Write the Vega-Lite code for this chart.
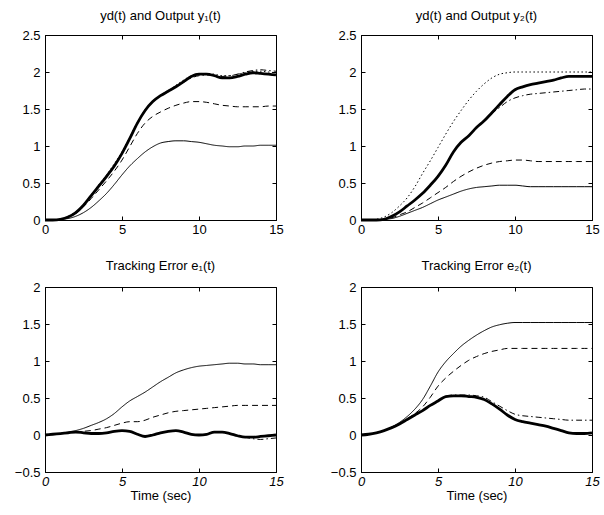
{
"$schema": "https://vega.github.io/schema/vega-lite/v6.json",
"padding": {"left": 13, "top": 9, "right": 5, "bottom": 5},
"background": "white",
"data": {"values": [
{"p":"y1","t":0,"thin":0,"dash":0,"dd":0,"thick":0,"dot":0},
{"p":"y1","t":0.5,"thin":0,"dash":0,"dd":0,"thick":0,"dot":0},
{"p":"y1","t":1,"thin":0.01,"dash":0.01,"dd":0.01,"thick":0.01,"dot":0.01},
{"p":"y1","t":1.5,"thin":0.02,"dash":0.04,"dd":0.04,"thick":0.04,"dot":0.05},
{"p":"y1","t":2,"thin":0.05,"dash":0.09,"dd":0.1,"thick":0.1,"dot":0.11},
{"p":"y1","t":2.5,"thin":0.1,"dash":0.18,"dd":0.2,"thick":0.2,"dot":0.21},
{"p":"y1","t":3,"thin":0.17,"dash":0.29,"dd":0.33,"thick":0.33,"dot":0.34},
{"p":"y1","t":3.5,"thin":0.26,"dash":0.41,"dd":0.46,"thick":0.46,"dot":0.48},
{"p":"y1","t":4,"thin":0.36,"dash":0.53,"dd":0.59,"thick":0.59,"dot":0.61},
{"p":"y1","t":4.5,"thin":0.48,"dash":0.66,"dd":0.73,"thick":0.73,"dot":0.76},
{"p":"y1","t":5,"thin":0.61,"dash":0.81,"dd":0.9,"thick":0.9,"dot":0.92},
{"p":"y1","t":5.5,"thin":0.73,"dash":0.99,"dd":1.1,"thick":1.1,"dot":1.12},
{"p":"y1","t":6,"thin":0.83,"dash":1.17,"dd":1.31,"thick":1.31,"dot":1.32},
{"p":"y1","t":6.5,"thin":0.92,"dash":1.31,"dd":1.48,"thick":1.48,"dot":1.49},
{"p":"y1","t":7,"thin":0.99,"dash":1.4,"dd":1.6,"thick":1.6,"dot":1.61},
{"p":"y1","t":7.5,"thin":1.04,"dash":1.46,"dd":1.68,"thick":1.68,"dot":1.69},
{"p":"y1","t":8,"thin":1.06,"dash":1.51,"dd":1.74,"thick":1.74,"dot":1.75},
{"p":"y1","t":8.5,"thin":1.07,"dash":1.55,"dd":1.8,"thick":1.8,"dot":1.82},
{"p":"y1","t":9,"thin":1.07,"dash":1.58,"dd":1.86,"thick":1.87,"dot":1.89},
{"p":"y1","t":9.5,"thin":1.06,"dash":1.6,"dd":1.92,"thick":1.94,"dot":1.95},
{"p":"y1","t":10,"thin":1.05,"dash":1.6,"dd":1.95,"thick":1.97,"dot":1.98},
{"p":"y1","t":10.5,"thin":1.03,"dash":1.59,"dd":1.96,"thick":1.97,"dot":1.98},
{"p":"y1","t":11,"thin":1.01,"dash":1.57,"dd":1.95,"thick":1.95,"dot":1.97},
{"p":"y1","t":11.5,"thin":1.0,"dash":1.55,"dd":1.94,"thick":1.92,"dot":1.95},
{"p":"y1","t":12,"thin":0.99,"dash":1.54,"dd":1.95,"thick":1.92,"dot":1.95},
{"p":"y1","t":12.5,"thin":0.99,"dash":1.53,"dd":1.97,"thick":1.94,"dot":1.97},
{"p":"y1","t":13,"thin":1.0,"dash":1.53,"dd":2.0,"thick":1.97,"dot":1.99},
{"p":"y1","t":13.5,"thin":1.0,"dash":1.53,"dd":2.02,"thick":1.99,"dot":2.01},
{"p":"y1","t":14,"thin":1.01,"dash":1.53,"dd":2.03,"thick":1.98,"dot":2.01},
{"p":"y1","t":14.5,"thin":1.01,"dash":1.54,"dd":2.02,"thick":1.97,"dot":2.0},
{"p":"y1","t":15,"thin":1.01,"dash":1.54,"dd":2.01,"thick":1.96,"dot":1.99},
{"p":"y2","t":0,"thin":0,"dash":0,"dd":0,"thick":0,"dot":0},
{"p":"y2","t":0.5,"thin":0,"dash":0,"dd":0,"thick":0,"dot":0},
{"p":"y2","t":1,"thin":0,"dash":0,"dd":0,"thick":0,"dot":0.01},
{"p":"y2","t":1.5,"thin":0.01,"dash":0.01,"dd":0.01,"thick":0.01,"dot":0.04},
{"p":"y2","t":2,"thin":0.02,"dash":0.03,"dd":0.05,"thick":0.05,"dot":0.1},
{"p":"y2","t":2.5,"thin":0.05,"dash":0.07,"dd":0.11,"thick":0.11,"dot":0.19},
{"p":"y2","t":3,"thin":0.09,"dash":0.11,"dd":0.19,"thick":0.19,"dot":0.3},
{"p":"y2","t":3.5,"thin":0.13,"dash":0.17,"dd":0.27,"thick":0.27,"dot":0.45},
{"p":"y2","t":4,"thin":0.17,"dash":0.23,"dd":0.36,"thick":0.36,"dot":0.63},
{"p":"y2","t":4.5,"thin":0.22,"dash":0.3,"dd":0.47,"thick":0.47,"dot":0.8},
{"p":"y2","t":5,"thin":0.27,"dash":0.37,"dd":0.59,"thick":0.59,"dot":0.98},
{"p":"y2","t":5.5,"thin":0.31,"dash":0.44,"dd":0.74,"thick":0.74,"dot":1.16},
{"p":"y2","t":6,"thin":0.35,"dash":0.52,"dd":0.92,"thick":0.92,"dot":1.33},
{"p":"y2","t":6.5,"thin":0.39,"dash":0.59,"dd":1.05,"thick":1.05,"dot":1.48},
{"p":"y2","t":7,"thin":0.42,"dash":0.65,"dd":1.14,"thick":1.14,"dot":1.62},
{"p":"y2","t":7.5,"thin":0.44,"dash":0.7,"dd":1.25,"thick":1.25,"dot":1.74},
{"p":"y2","t":8,"thin":0.45,"dash":0.74,"dd":1.34,"thick":1.34,"dot":1.84},
{"p":"y2","t":8.5,"thin":0.46,"dash":0.77,"dd":1.44,"thick":1.45,"dot":1.92},
{"p":"y2","t":9,"thin":0.47,"dash":0.79,"dd":1.52,"thick":1.56,"dot":1.97},
{"p":"y2","t":9.5,"thin":0.47,"dash":0.8,"dd":1.6,"thick":1.67,"dot":1.99},
{"p":"y2","t":10,"thin":0.47,"dash":0.81,"dd":1.65,"thick":1.76,"dot":2},
{"p":"y2","t":10.5,"thin":0.46,"dash":0.81,"dd":1.68,"thick":1.8,"dot":2},
{"p":"y2","t":11,"thin":0.45,"dash":0.8,"dd":1.7,"thick":1.83,"dot":2},
{"p":"y2","t":11.5,"thin":0.45,"dash":0.79,"dd":1.71,"thick":1.85,"dot":2},
{"p":"y2","t":12,"thin":0.45,"dash":0.79,"dd":1.72,"thick":1.87,"dot":2},
{"p":"y2","t":12.5,"thin":0.45,"dash":0.79,"dd":1.73,"thick":1.89,"dot":2},
{"p":"y2","t":13,"thin":0.45,"dash":0.79,"dd":1.74,"thick":1.92,"dot":2},
{"p":"y2","t":13.5,"thin":0.45,"dash":0.79,"dd":1.75,"thick":1.94,"dot":2},
{"p":"y2","t":14,"thin":0.45,"dash":0.79,"dd":1.76,"thick":1.94,"dot":2},
{"p":"y2","t":14.5,"thin":0.45,"dash":0.79,"dd":1.77,"thick":1.94,"dot":2},
{"p":"y2","t":15,"thin":0.45,"dash":0.79,"dd":1.77,"thick":1.94,"dot":2},
{"p":"e1","t":0,"thin":0,"dash":0,"dd":0,"thick":0},
{"p":"e1","t":0.5,"thin":0.01,"dash":0.01,"dd":0.01,"thick":0.01},
{"p":"e1","t":1,"thin":0.02,"dash":0.02,"dd":0.02,"thick":0.02},
{"p":"e1","t":1.5,"thin":0.04,"dash":0.03,"dd":0.03,"thick":0.03},
{"p":"e1","t":2,"thin":0.06,"dash":0.04,"dd":0.04,"thick":0.04},
{"p":"e1","t":2.5,"thin":0.09,"dash":0.05,"dd":0.03,"thick":0.03},
{"p":"e1","t":3,"thin":0.13,"dash":0.06,"dd":0.02,"thick":0.02},
{"p":"e1","t":3.5,"thin":0.17,"dash":0.08,"dd":0.02,"thick":0.02},
{"p":"e1","t":4,"thin":0.22,"dash":0.1,"dd":0.03,"thick":0.03},
{"p":"e1","t":4.5,"thin":0.29,"dash":0.13,"dd":0.05,"thick":0.05},
{"p":"e1","t":5,"thin":0.38,"dash":0.16,"dd":0.06,"thick":0.06},
{"p":"e1","t":5.5,"thin":0.46,"dash":0.18,"dd":0.05,"thick":0.05},
{"p":"e1","t":6,"thin":0.52,"dash":0.18,"dd":0.01,"thick":0.01},
{"p":"e1","t":6.5,"thin":0.58,"dash":0.2,"dd":-0.02,"thick":-0.02},
{"p":"e1","t":7,"thin":0.65,"dash":0.24,"dd":0,"thick":0},
{"p":"e1","t":7.5,"thin":0.72,"dash":0.27,"dd":0.03,"thick":0.03},
{"p":"e1","t":8,"thin":0.78,"dash":0.3,"dd":0.05,"thick":0.05},
{"p":"e1","t":8.5,"thin":0.84,"dash":0.32,"dd":0.06,"thick":0.06},
{"p":"e1","t":9,"thin":0.88,"dash":0.33,"dd":0.04,"thick":0.04},
{"p":"e1","t":9.5,"thin":0.91,"dash":0.34,"dd":0.01,"thick":0.01},
{"p":"e1","t":10,"thin":0.93,"dash":0.35,"dd":0,"thick":0},
{"p":"e1","t":10.5,"thin":0.94,"dash":0.36,"dd":0.01,"thick":0.01},
{"p":"e1","t":11,"thin":0.95,"dash":0.37,"dd":0.04,"thick":0.04},
{"p":"e1","t":11.5,"thin":0.96,"dash":0.38,"dd":0.04,"thick":0.04},
{"p":"e1","t":12,"thin":0.97,"dash":0.39,"dd":0.02,"thick":0.02},
{"p":"e1","t":12.5,"thin":0.97,"dash":0.4,"dd":-0.01,"thick":-0.01},
{"p":"e1","t":13,"thin":0.96,"dash":0.4,"dd":-0.03,"thick":-0.03},
{"p":"e1","t":13.5,"thin":0.96,"dash":0.4,"dd":-0.05,"thick":-0.03},
{"p":"e1","t":14,"thin":0.95,"dash":0.4,"dd":-0.06,"thick":-0.02},
{"p":"e1","t":14.5,"thin":0.95,"dash":0.4,"dd":-0.05,"thick":-0.01},
{"p":"e1","t":15,"thin":0.95,"dash":0.4,"dd":-0.04,"thick":0},
{"p":"e2","t":0,"thin":0,"dash":0,"dd":0,"thick":0},
{"p":"e2","t":0.5,"thin":0.01,"dash":0.01,"dd":0.01,"thick":0.01},
{"p":"e2","t":1,"thin":0.03,"dash":0.03,"dd":0.03,"thick":0.03},
{"p":"e2","t":1.5,"thin":0.06,"dash":0.06,"dd":0.06,"thick":0.06},
{"p":"e2","t":2,"thin":0.11,"dash":0.1,"dd":0.1,"thick":0.1},
{"p":"e2","t":2.5,"thin":0.17,"dash":0.15,"dd":0.15,"thick":0.15},
{"p":"e2","t":3,"thin":0.25,"dash":0.22,"dd":0.21,"thick":0.21},
{"p":"e2","t":3.5,"thin":0.35,"dash":0.29,"dd":0.27,"thick":0.27},
{"p":"e2","t":4,"thin":0.48,"dash":0.38,"dd":0.33,"thick":0.33},
{"p":"e2","t":4.5,"thin":0.66,"dash":0.51,"dd":0.4,"thick":0.4},
{"p":"e2","t":5,"thin":0.85,"dash":0.66,"dd":0.46,"thick":0.46},
{"p":"e2","t":5.5,"thin":0.99,"dash":0.77,"dd":0.52,"thick":0.52},
{"p":"e2","t":6,"thin":1.1,"dash":0.86,"dd":0.54,"thick":0.53},
{"p":"e2","t":6.5,"thin":1.2,"dash":0.94,"dd":0.54,"thick":0.53},
{"p":"e2","t":7,"thin":1.28,"dash":1.01,"dd":0.54,"thick":0.52},
{"p":"e2","t":7.5,"thin":1.35,"dash":1.06,"dd":0.53,"thick":0.51},
{"p":"e2","t":8,"thin":1.41,"dash":1.1,"dd":0.51,"thick":0.48},
{"p":"e2","t":8.5,"thin":1.46,"dash":1.13,"dd":0.45,"thick":0.42},
{"p":"e2","t":9,"thin":1.49,"dash":1.15,"dd":0.39,"thick":0.35},
{"p":"e2","t":9.5,"thin":1.51,"dash":1.17,"dd":0.33,"thick":0.27},
{"p":"e2","t":10,"thin":1.52,"dash":1.17,"dd":0.28,"thick":0.21},
{"p":"e2","t":10.5,"thin":1.52,"dash":1.17,"dd":0.26,"thick":0.18},
{"p":"e2","t":11,"thin":1.52,"dash":1.17,"dd":0.25,"thick":0.16},
{"p":"e2","t":11.5,"thin":1.52,"dash":1.17,"dd":0.24,"thick":0.14},
{"p":"e2","t":12,"thin":1.52,"dash":1.17,"dd":0.23,"thick":0.12},
{"p":"e2","t":12.5,"thin":1.52,"dash":1.17,"dd":0.22,"thick":0.09},
{"p":"e2","t":13,"thin":1.52,"dash":1.17,"dd":0.21,"thick":0.06},
{"p":"e2","t":13.5,"thin":1.52,"dash":1.17,"dd":0.2,"thick":0.03},
{"p":"e2","t":14,"thin":1.52,"dash":1.17,"dd":0.2,"thick":0.02},
{"p":"e2","t":14.5,"thin":1.52,"dash":1.17,"dd":0.2,"thick":0.02},
{"p":"e2","t":15,"thin":1.52,"dash":1.17,"dd":0.2,"thick":0.03}
]},
"config": {
  "font": "Liberation Sans",
  "view": {"stroke": "black", "strokeWidth": 1},
  "axis": {"grid": false, "domainColor": "black", "domainWidth": 1, "tickColor": "black", "tickSize": -4, "tickWidth": 1, "labelColor": "black", "labelFont": "Liberation Sans", "labelFontSize": 13, "labelPadding": 9, "labelFlush": false, "labelOverlap": false, "titleFont": "Liberation Sans", "titleFontSize": 13, "titleFontWeight": "normal", "titleColor": "black", "titlePadding": 1},
  "axisX": {"labelPadding": 7},
  "title": {"font": "Liberation Sans", "fontSize": 13, "fontWeight": "normal", "color": "black", "anchor": "middle"}
},
"concat": [
  {"width": 231, "height": 185,
   "title": {"text": "yd(t) and Output y₁(t)", "offset": 6},
   "transform": [{"filter": "datum.p == 'y1'"}],
   "layer": [
    {"transform": [{"fold": ["thin","dash","dd","dot"], "as": ["s","v"]}],
     "mark": {"type": "line", "color": "black", "strokeWidth": 1, "interpolate": "monotone"},
     "encoding": {
      "x": {"field": "t", "type": "quantitative", "scale": {"domain": [0,15], "nice": false}, "axis": {"values": [0,5,10,15], "title": null}},
      "y": {"field": "v", "type": "quantitative", "scale": {"domain": [0,2.5], "nice": false}, "axis": {"values": [0,0.5,1,1.5,2,2.5], "format": "~g", "title": null}},
      "strokeDash": {"field": "s", "type": "nominal", "scale": {"domain": ["thin","dash","dd","dot"], "range": [[1,0],[6,4],[6,3,1.5,3],[1.5,2.5]]}, "legend": null}
     }},
    {"mark": {"type": "line", "color": "black", "strokeWidth": 2.8, "interpolate": "monotone"},
     "encoding": {
      "x": {"field": "t", "type": "quantitative", "scale": {"domain": [0,15], "nice": false}, "axis": {"orient": "top", "values": [0,5,10,15], "labels": false, "title": null, "domain": false}},
      "y": {"field": "thick", "type": "quantitative", "scale": {"domain": [0,2.5], "nice": false}, "axis": {"orient": "right", "values": [0,0.5,1,1.5,2,2.5], "labels": false, "title": null, "domain": false}}
     }}
   ],
   "resolve": {"axis": {"x": "independent", "y": "independent"}}
  },
  {"width": 231, "height": 185,
   "title": {"text": "yd(t) and Output y₂(t)", "offset": 6},
   "transform": [{"filter": "datum.p == 'y2'"}],
   "layer": [
    {"transform": [{"fold": ["thin","dash","dd","dot"], "as": ["s","v"]}],
     "mark": {"type": "line", "color": "black", "strokeWidth": 1, "interpolate": "monotone"},
     "encoding": {
      "x": {"field": "t", "type": "quantitative", "scale": {"domain": [0,15], "nice": false}, "axis": {"values": [0,5,10,15], "title": null}},
      "y": {"field": "v", "type": "quantitative", "scale": {"domain": [0,2.5], "nice": false}, "axis": {"values": [0,0.5,1,1.5,2,2.5], "format": "~g", "title": null}},
      "strokeDash": {"field": "s", "type": "nominal", "scale": {"domain": ["thin","dash","dd","dot"], "range": [[1,0],[6,4],[6,3,1.5,3],[1.5,2.5]]}, "legend": null}
     }},
    {"mark": {"type": "line", "color": "black", "strokeWidth": 2.8, "interpolate": "monotone"},
     "encoding": {
      "x": {"field": "t", "type": "quantitative", "scale": {"domain": [0,15], "nice": false}, "axis": {"orient": "top", "values": [0,5,10,15], "labels": false, "title": null, "domain": false}},
      "y": {"field": "thick", "type": "quantitative", "scale": {"domain": [0,2.5], "nice": false}, "axis": {"orient": "right", "values": [0,0.5,1,1.5,2,2.5], "labels": false, "title": null, "domain": false}}
     }}
   ],
   "resolve": {"axis": {"x": "independent", "y": "independent"}}
  },
  {"width": 231, "height": 185,
   "title": {"text": "Tracking Error e₁(t)", "offset": 8},
   "transform": [{"filter": "datum.p == 'e1'"}],
   "layer": [
    {"transform": [{"fold": ["thin","dash","dd"], "as": ["s","v"]}],
     "mark": {"type": "line", "color": "black", "strokeWidth": 1, "interpolate": "monotone"},
     "encoding": {
      "x": {"field": "t", "type": "quantitative", "scale": {"domain": [0,15], "nice": false}, "axis": {"values": [0,5,10,15], "title": "Time (sec)", "labelFontStyle": "italic"}},
      "y": {"field": "v", "type": "quantitative", "scale": {"domain": [-0.5,2], "nice": false}, "axis": {"values": [-0.5,0,0.5,1,1.5,2], "format": "~g", "title": null}},
      "strokeDash": {"field": "s", "type": "nominal", "scale": {"domain": ["thin","dash","dd","dot"], "range": [[1,0],[6,4],[6,3,1.5,3],[1.5,2.5]]}, "legend": null}
     }},
    {"mark": {"type": "line", "color": "black", "strokeWidth": 2.8, "interpolate": "monotone"},
     "encoding": {
      "x": {"field": "t", "type": "quantitative", "scale": {"domain": [0,15], "nice": false}, "axis": {"orient": "top", "values": [0,5,10,15], "labels": false, "title": null, "domain": false}},
      "y": {"field": "thick", "type": "quantitative", "scale": {"domain": [-0.5,2], "nice": false}, "axis": {"orient": "right", "values": [-0.5,0,0.5,1,1.5,2], "labels": false, "title": null, "domain": false}}
     }}
   ],
   "resolve": {"axis": {"x": "independent", "y": "independent"}}
  },
  {"width": 231, "height": 185,
   "title": {"text": "Tracking Error e₂(t)", "offset": 8},
   "transform": [{"filter": "datum.p == 'e2'"}],
   "layer": [
    {"transform": [{"fold": ["thin","dash","dd"], "as": ["s","v"]}],
     "mark": {"type": "line", "color": "black", "strokeWidth": 1, "interpolate": "monotone"},
     "encoding": {
      "x": {"field": "t", "type": "quantitative", "scale": {"domain": [0,15], "nice": false}, "axis": {"values": [0,5,10,15], "title": "Time (sec)", "labelFontStyle": "italic"}},
      "y": {"field": "v", "type": "quantitative", "scale": {"domain": [-0.5,2], "nice": false}, "axis": {"values": [-0.5,0,0.5,1,1.5,2], "format": "~g", "title": null}},
      "strokeDash": {"field": "s", "type": "nominal", "scale": {"domain": ["thin","dash","dd","dot"], "range": [[1,0],[6,4],[6,3,1.5,3],[1.5,2.5]]}, "legend": null}
     }},
    {"mark": {"type": "line", "color": "black", "strokeWidth": 2.8, "interpolate": "monotone"},
     "encoding": {
      "x": {"field": "t", "type": "quantitative", "scale": {"domain": [0,15], "nice": false}, "axis": {"orient": "top", "values": [0,5,10,15], "labels": false, "title": null, "domain": false}},
      "y": {"field": "thick", "type": "quantitative", "scale": {"domain": [-0.5,2], "nice": false}, "axis": {"orient": "right", "values": [-0.5,0,0.5,1,1.5,2], "labels": false, "title": null, "domain": false}}
     }}
   ],
   "resolve": {"axis": {"x": "independent", "y": "independent"}}
  }
],
"columns": 2,
"spacing": {"row": 67, "column": 85},
"bounds": "flush",
"resolve": {"scale": {"x": "independent", "y": "independent"}}
}
